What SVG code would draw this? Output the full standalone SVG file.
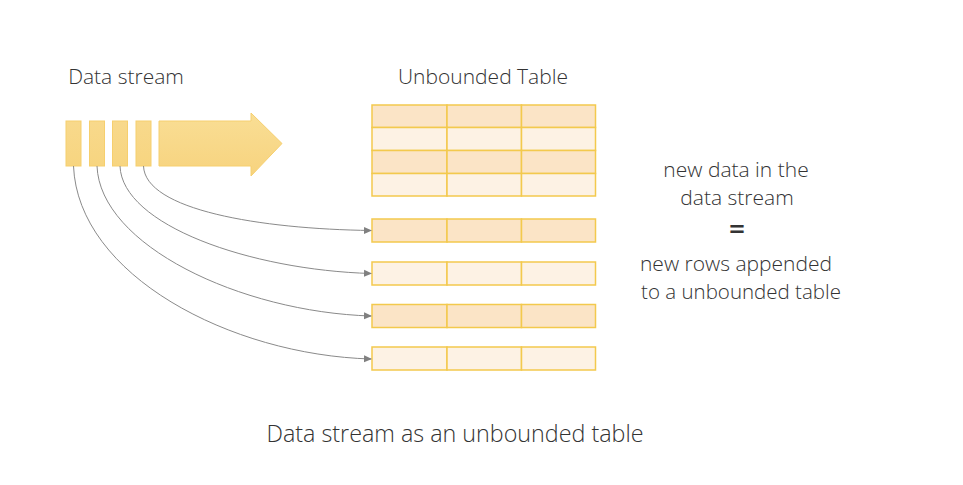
<svg xmlns="http://www.w3.org/2000/svg" width="963" height="485" viewBox="0 0 963 485">
<style>
text{font-family:"Open Sans","Lato","Liberation Sans",sans-serif;font-weight:300;fill:#333;text-anchor:middle}
.blk{fill:url(#gy);stroke:#f6cf6e;stroke-width:1}
.cd{fill:#fbe4c6;stroke:#f3c94d;stroke-width:1.5}
.cl{fill:#fdf2e4;stroke:#f3c94d;stroke-width:1.5}
.con{fill:none;stroke:#8a8a8a;stroke-width:1;marker-end:url(#ah)}
</style>
<defs>
<linearGradient id="gy" x1="0" y1="0" x2="0" y2="1">
<stop offset="0" stop-color="#f8d98c"/><stop offset="1" stop-color="#f7d580"/>
</linearGradient>
<linearGradient id="ga" x1="0" y1="0" x2="0" y2="1">
<stop offset="0" stop-color="#f9de95"/><stop offset="1" stop-color="#f7d37e"/>
</linearGradient>
<marker id="ah" markerWidth="8" markerHeight="8" refX="7" refY="4" orient="auto" markerUnits="userSpaceOnUse">
<path d="M0,0.5 L8,4 L0,7.5 Z" fill="#808080"/>
</marker>
</defs>

<text x="126" y="84" font-size="21">Data stream</text>
<text x="483" y="84" font-size="21">Unbounded Table</text>

<g id="stream">
<rect class="blk" x="66" y="121" width="15" height="45"/>
<rect class="blk" x="89.5" y="121" width="15" height="45"/>
<rect class="blk" x="112.5" y="121" width="15" height="45"/>
<rect class="blk" x="136" y="121" width="15" height="45"/>
<path d="M159,121 H251 V113 L282,143.5 L251,176 V166 H159 Z" fill="url(#ga)" stroke="#f6cf6e" stroke-width="1"/>
</g>

<g id="table">
<rect class="cd" x="372" y="105" width="75" height="22.5"/>
<rect class="cd" x="447" y="105" width="74.5" height="22.5"/>
<rect class="cd" x="521.5" y="105" width="74" height="22.5"/>
<rect class="cl" x="372" y="127.5" width="75" height="23"/>
<rect class="cl" x="447" y="127.5" width="74.5" height="23"/>
<rect class="cl" x="521.5" y="127.5" width="74" height="23"/>
<rect class="cd" x="372" y="150.5" width="75" height="23"/>
<rect class="cd" x="447" y="150.5" width="74.5" height="23"/>
<rect class="cd" x="521.5" y="150.5" width="74" height="23"/>
<rect class="cl" x="372" y="173.5" width="75" height="22.5"/>
<rect class="cl" x="447" y="173.5" width="74.5" height="22.5"/>
<rect class="cl" x="521.5" y="173.5" width="74" height="22.5"/>
</g>

<g id="row1">
<rect class="cd" x="372" y="219" width="75" height="23"/>
<rect class="cd" x="447" y="219" width="74.5" height="23"/>
<rect class="cd" x="521.5" y="219" width="74" height="23"/>
</g>
<g id="row2">
<rect class="cl" x="372" y="262" width="75" height="23"/>
<rect class="cl" x="447" y="262" width="74.5" height="23"/>
<rect class="cl" x="521.5" y="262" width="74" height="23"/>
</g>
<g id="row3">
<rect class="cd" x="372" y="304.5" width="75" height="23"/>
<rect class="cd" x="447" y="304.5" width="74.5" height="23"/>
<rect class="cd" x="521.5" y="304.5" width="74" height="23"/>
</g>
<g id="row4">
<rect class="cl" x="372" y="347" width="75" height="23"/>
<rect class="cl" x="447" y="347" width="74.5" height="23"/>
<rect class="cl" x="521.5" y="347" width="74" height="23"/>
</g>

<g id="connectors">
<path class="con" d="M143.5,166 C145,210 260,229 371,230.5"/>
<path class="con" d="M120,166 C122,225 250,270 371,273.5"/>
<path class="con" d="M97,166 C100,245 240,312 371,316"/>
<path class="con" d="M73.5,166 C78,275 230,355 371,359"/>
</g>

<g id="note">
<text x="736" y="177" font-size="21">new data in the</text>
<text x="737" y="205" font-size="21">data stream</text>
<text x="737" y="239" font-size="28" style="font-weight:600">=</text>
<text x="736" y="271" font-size="21">new rows appended</text>
<text x="741" y="299" font-size="20.5">to a unbounded table</text>
</g>

<text x="455" y="442" font-size="23.3">Data stream as an unbounded table</text>
</svg>
